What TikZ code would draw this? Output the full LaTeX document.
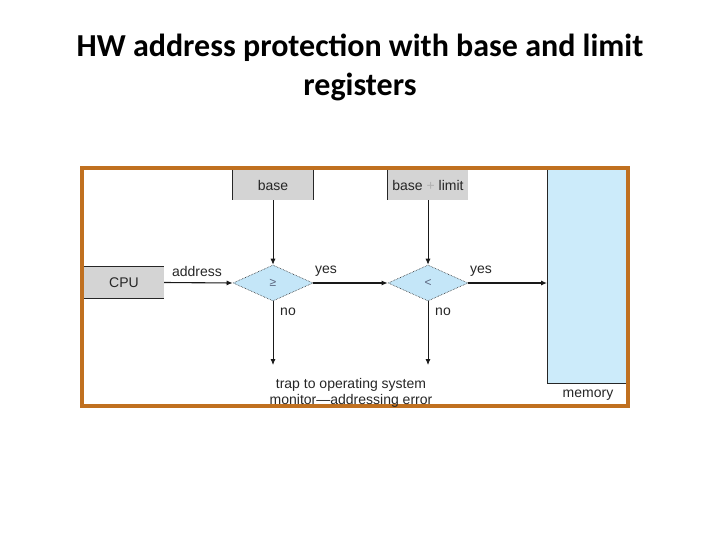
\documentclass[tikz,border=0pt]{standalone}
\usepackage{fontspec}
\setmainfont{Liberation Sans}
\newfontfamily\titlefont{Carlito}
\usetikzlibrary{shapes.geometric,arrows.meta}
\definecolor{framecol}{RGB}{192,112,32}
\definecolor{regfill}{RGB}{212,212,212}
\definecolor{diafill}{RGB}{196,230,248}
\definecolor{memfill}{RGB}{204,235,250}
\definecolor{symcol}{RGB}{90,100,125}
\begin{document}
\begin{tikzpicture}[x=1pt,y=-1pt,
  lbl/.style={font=\fontsize{14}{16}\selectfont, inner sep=0pt, text=black!85},
  reg/.style={lbl, fill=regfill, minimum width=80pt, minimum height=30pt},
  edge/.style={line width=0.9pt, draw=black!85},
  dia/.style={diamond, fill=diafill, draw=black!85, densely dotted, line width=0.6pt, minimum width=80pt, minimum height=36pt, inner sep=0pt, font=\fontsize{12}{12}\selectfont, text=symcol},
  arr/.style={-{Latex[length=6pt,width=5pt]}, line width=1.1pt, draw=black!90},
  varr/.style={-{Latex[length=6pt,width=5pt]}, line width=0.8pt, draw=black!90}]
\useasboundingbox (0,0) rectangle (720,540);
% title
\node[font=\titlefont\bfseries\fontsize{32}{39}\selectfont, align=center, inner sep=0pt] (title) at (360,67) {HW address protection with base and limit\\registers};
% frame
\draw[framecol, line width=4pt] (82,168) rectangle (628,406);
% memory
\node[fill=memfill, minimum width=79pt, minimum height=213pt, inner sep=0pt, anchor=north west] (mem) at (547,170) {};
\draw[edge] (mem.north west) -- (mem.south west) -- (mem.south east);
\node[lbl] (memlbl) at (588,395.5) {memory};
% registers
\node[reg] (base) at (273,185) {base};
\draw[edge] (base.north west) -- (base.south west) (base.north east) -- (base.south east);
\node[reg] (bl) at (428,185) {base {\color{black!30}+} limit};
\draw[edge] (bl.north west) -- (bl.south west);
\node[reg, minimum height=31pt] (cpu) at (124,282.5) {CPU};
\draw[edge] (cpu.north west) -- (cpu.north east) (cpu.south west) -- (cpu.south east);
% comparators
\node[dia] (d1) at (273,283) {≥};
\node[dia] (d2) at (428,283) {<};
% trap
\node[lbl, align=center] (trap) at (351,393) {trap to operating system\\monitor—addressing error};
\coordinate (t1) at (273,365);
\coordinate (t2) at (428,365);
% connectors
\draw[arr] (cpu.east) -- (d1.west);
\draw[arr] (d1.east) -- (d2.west);
\draw[arr] (d2.east) -- (d2.east -| mem.west);
\draw[varr] (base.south) -- (d1.north);
\draw[varr] (bl.south) -- (d2.north);
\draw[varr] (d1.south) -- (t1);
\draw[varr] (d2.south) -- (t2);
% labels
\node[lbl] (la) at (197,271) {address};
\node[lbl] (ly1) at (326,271) {yes};
\node[lbl] (ly2) at (481,271) {yes};
\node[lbl] (ln1) at (288,312) {no};
\node[lbl] (ln2) at (443,312) {no};
\end{tikzpicture}
\end{document}
